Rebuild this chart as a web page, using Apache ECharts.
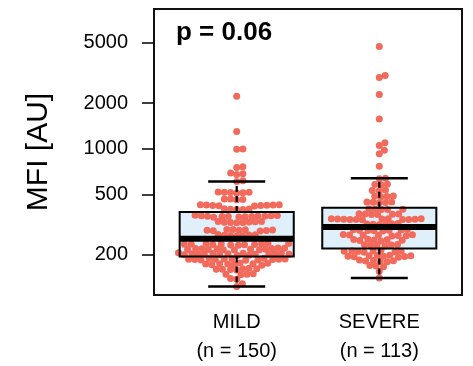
<!DOCTYPE html>
<html><head><meta charset="utf-8">
<script src="https://cdn.jsdelivr.net/npm/echarts@6/dist/echarts.min.js"></script>
<style>html,body{margin:0;padding:0;background:#fff}#c{width:473px;height:366px}</style>
</head><body><div id="c"></div>
<script>
// ---- data ----
const categories = ['MILD\n(n = 150)', 'SEVERE\n(n = 113)'];
const yTicks = [200, 500, 1000, 2000, 5000];
const pLabel = 'p = 0.06';
// box stats: [lower whisker, Q1, median, Q3, upper whisker]
const mildBox = [123, 194, 254, 382, 608];
const severeBox = [140, 219, 304, 408, 639];
const mildValues = [
  2220, 1300, 995, 990, 760, 750, 690, 683, 676, 615, 608,
  518, 515, 512, 514, 510, 516, 465, 462, 460, 466,
  425, 423, 420, 427, 422, 424, 419, 426, 421, 400, 398, 396, 401, 397,
  360, 358, 355, 362, 357, 359, 356, 361, 354, 358, 363, 357, 352,
  330, 327, 325, 329, 326, 328, 324, 331,
  291, 289, 287, 292, 288, 290, 286, 289, 293, 270, 268, 266, 269, 267, 271, 265,
  236, 234, 232, 235, 233, 237, 231, 234, 236, 233, 235, 230,
  219, 217, 215, 218, 216, 220, 214, 217, 219, 216, 218, 215, 221,
  203, 201, 199, 202, 200, 204, 198, 201, 203, 200, 202, 199, 205, 197, 201, 202,
  188, 186, 184, 187, 185, 189, 183, 186, 188, 185, 187, 184, 186,
  175, 173, 171, 174, 172, 176, 170, 173, 174,
  161, 160, 158, 162, 159, 161, 160,
  149, 148, 147, 148, 139, 137, 128, 123
];
const severeValues = [
  4730, 3045, 2955, 2284, 1573, 1093, 1049, 977, 925, 767,
  638, 634, 583, 580, 578, 533, 530, 528, 486, 484, 482, 487,
  444, 442, 440, 445, 441,
  400, 398, 396, 401, 397, 371, 369, 367, 370, 368, 372,
  344, 342, 340, 343, 341, 345, 339, 342, 344, 341, 343, 340,
  319, 317, 315, 318, 316, 320,
  291, 289, 287, 290, 288, 292, 286, 289,
  270, 268, 266, 269, 267, 271, 265, 268,
  251, 249, 247, 250, 248, 252, 246,
  232, 230, 228, 231, 229, 233,
  212, 210, 208, 211, 209, 213, 207, 210,
  197, 195, 193, 196, 194, 198, 192, 195, 196,
  183, 181, 179, 182, 180, 184,
  169, 168, 166, 155, 140
];

const FONT = "'Liberation Sans', Arial, Helvetica, sans-serif";
const boxes = [mildBox, severeBox];
const groups = [mildValues, severeValues];
const boxData = boxes.map((b, i) => [i + 1].concat(b));

const chart = echarts.init(document.getElementById('c'), null, {renderer: 'canvas'});

function fillItem(params, api) {
  const x = api.value(0);
  const a = api.coord([x - 0.4, api.value(4)]);
  const b = api.coord([x + 0.4, api.value(2)]);
  return {type: 'rect', shape: {x: a[0], y: a[1], width: b[0] - a[0], height: b[1] - a[1]},
    style: {fill: '#dff0fb'}};
}
function lineItem(params, api) {
  const x = api.value(0);
  const c = v => api.coord([x, v]);
  const lo = c(api.value(1)), q1 = c(api.value(2)), md = c(api.value(3)), q3 = c(api.value(4)), hi = c(api.value(5));
  const L = api.coord([x - 0.4, api.value(3)])[0], R = api.coord([x + 0.4, api.value(3)])[0];
  const cl = api.coord([x - 0.2, api.value(3)])[0], cr = api.coord([x + 0.2, api.value(3)])[0];
  const k = '#000';
  return {type: 'group', children: [
    {type: 'line', shape: {x1: md[0], y1: q3[1], x2: md[0], y2: hi[1]}, style: {stroke: k, lineWidth: 2.2, lineDash: [6, 4]}},
    {type: 'line', shape: {x1: md[0], y1: q1[1], x2: md[0], y2: lo[1]}, style: {stroke: k, lineWidth: 2.2, lineDash: [6, 4]}},
    {type: 'line', shape: {x1: cl, y1: hi[1], x2: cr, y2: hi[1]}, style: {stroke: k, lineWidth: 2.5}},
    {type: 'line', shape: {x1: cl, y1: lo[1], x2: cr, y2: lo[1]}, style: {stroke: k, lineWidth: 2.5}},
    {type: 'rect', shape: {x: L, y: q3[1], width: R - L, height: q1[1] - q3[1]}, style: {fill: null, stroke: k, lineWidth: 2}},
    {type: 'line', shape: {x1: L, y1: md[1], x2: R, y2: md[1]}, style: {stroke: k, lineWidth: 6}}
  ]};
}

chart.setOption({
  animation: false,
  grid: {left: 154, top: 9, width: 308, height: 287, show: true, borderColor: '#111', borderWidth: 2, backgroundColor: 'transparent'},
  xAxis: {
    type: 'value', min: 0.42, max: 2.58, splitLine: {show: false},
    axisLine: {show: false}, axisTick: {show: false},
    axisLabel: {customValues: [1, 2], formatter: v => categories[Math.round(v) - 1] || '',
      color: '#000', fontFamily: FONT, fontSize: 20, lineHeight: 29, margin: 13}
  },
  yAxis: {
    type: 'log', logBase: 10, min: 108, max: 8375, splitLine: {show: false},
    axisLine: {show: false},
    axisTick: {show: true, length: 12, customValues: yTicks, lineStyle: {color: '#000', width: 1.5}},
    axisLabel: {customValues: yTicks, formatter: v => String(Math.round(v)), color: '#000', fontFamily: FONT, fontSize: 20, margin: 26},
    name: 'MFI [AU]', nameLocation: 'middle', nameGap: 100,
    nameTextStyle: {color: '#000', fontFamily: FONT, fontSize: 30}
  },
  graphic: [{type: 'text', left: 176, top: 20, style: {text: pLabel, fill: '#000', font: 'bold 26px ' + FONT}}],
  series: [
    {type: 'custom', id: 'fill', renderItem: fillItem, data: boxData, z: 1, silent: true},
    {type: 'scatter', id: 'pts', data: [], symbolSize: 7, itemStyle: {color: '#F26A5B', opacity: 1}, z: 2},
    {type: 'custom', id: 'lines', renderItem: lineItem, data: boxData, z: 3, silent: true}
  ]
});

function swarm(ys, d) {
  const idx = ys.map((y, i) => i).sort((a, b) => ys[b] - ys[a]);
  const placed = [];
  const out = new Array(ys.length);
  idx.forEach(i => {
    const y = ys[i];
    const near = placed.filter(p => Math.abs(p.y - y) < d);
    const cands = [0];
    near.forEach(p => {
      const dx = Math.sqrt(d * d - (p.y - y) * (p.y - y));
      cands.push(p.x + dx, p.x - dx);
    });
    cands.sort((a, b) => Math.abs(a) - Math.abs(b));
    let best = 0;
    for (const c of cands) {
      if (near.every(p => (p.x - c) * (p.x - c) + (p.y - y) * (p.y - y) >= d * d - 1e-6)) { best = c; break; }
    }
    placed.push({x: best, y: y});
    out[i] = best;
  });
  return out;
}

const pxPerUnit = chart.convertToPixel({gridIndex: 0}, [2, 300])[0] - chart.convertToPixel({gridIndex: 0}, [1, 300])[0];
const pts = [];
groups.forEach((vals, g) => {
  const ys = vals.map(v => chart.convertToPixel({gridIndex: 0}, [g + 1, v])[1]);
  const offs = swarm(ys, 6.2);
  vals.forEach((v, i) => pts.push([g + 1 + offs[i] / pxPerUnit, v]));
});
chart.setOption({series: [{id: 'pts', data: pts}]});
</script>
</body></html>
